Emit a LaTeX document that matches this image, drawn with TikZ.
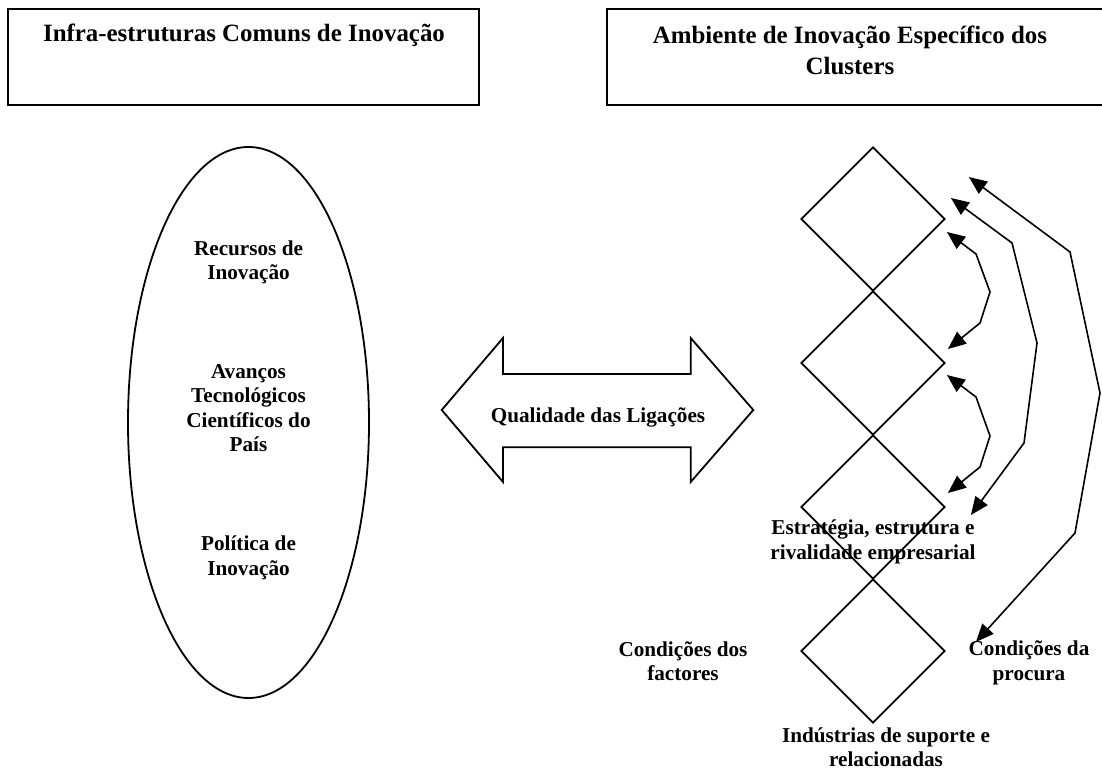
\documentclass[tikz,border=0pt]{standalone}
\usepackage{fontspec}
\setmainfont{Liberation Serif}
\usetikzlibrary{arrows.meta,shapes.geometric,calc}
\begin{document}
\begin{tikzpicture}[x=0.5pt,y=-0.5pt,
  heading/.style={font=\fontsize{12.45}{15.5}\selectfont\bfseries, align=center, inner sep=0pt},
  txt/.style={font=\fontsize{10.6}{12.2}\selectfont\bfseries, align=center, inner sep=0pt},
  frame/.style={draw, line width=1.1pt, inner sep=0pt},
  facet/.style={draw, diamond, aspect=1, line width=0.9pt, minimum width=72pt, minimum height=72pt, inner sep=0pt},
  link/.style={line width=0.8pt, {Triangle[length=9pt,width=7.5pt]}-{Triangle[length=9pt,width=7.5pt]}}
]
\useasboundingbox (0,0) rectangle (1102,769);

% header boxes
\node[frame, minimum width=235.5pt, minimum height=48pt] (lbox) at (243.5,57) {};
\node[frame, minimum width=252.5pt, minimum height=48pt] (rbox) at (859.5,57) {};
\node[heading, anchor=base] (ltitle) at (244,42) {Infra-estruturas Comuns de Inovação};
\node[heading] (rtitle) at (850,50) {Ambiente de Inovação Específico dos\\Clusters};

% common infrastructure
\node[draw, ellipse, line width=0.9pt, minimum width=120.5pt, minimum height=275.5pt, inner sep=0pt] (oval) at (248.5,422.5) {};
\node[txt] (rec) at (248.5,262.5) {Recursos de\\Inovação};
\node[txt] (avan) at (248.5,408) {Avanços\\Tecnológicos\\Científicos do\\País};
\node[txt] (pol) at (248.5,558) {Política de\\Inovação};

% linkage arrow
\draw[line width=0.9pt] (441.7,410) -- (503,338) -- (503,374) -- (690.7,374) -- (690.7,338)
  -- (753.3,410) -- (690.7,482) -- (690.7,447.3) -- (503,447.3) -- (503,482) -- cycle;
\node[txt, anchor=base] (qual) at (598,423) {Qualidade das Ligações};

% cluster diamond
\node[facet] (d1) at (873,219) {};
\node[facet] (d2) at (873,363) {};
\node[facet] (d3) at (873,507) {};
\node[facet] (d4) at (873,651) {};

\node[txt] (estr) at (873,542) {Estratégia, estrutura e\\rivalidade empresarial};
\node[txt] (fact) at (683,661) {Condições dos\\factores};
\node[txt] (proc) at (1029,663) {Condições da\\procura};
\node[txt] (ind) at (886,747.5) {Indústrias de suporte e\\relacionadas};

% interactions
\draw[link] ($(d1.east)+(1,13)$) -- (976,254) -- (990,292) -- (980,323) -- ($(d2.east)+(2,-14)$);
\draw[link] ($(d2.east)+(1,12)$) -- (976,397) -- (990,436) -- (980,467) -- ($(d3.east)+(2,-14)$);
\draw[link] ($(d1.east)+(5,-21)$) -- (1012,243) -- (1037,343) -- (1024,443) -- ($(d3.east)+(25,8)$);
\draw[link] ($(d1.east)+(23,-42)$) -- (1070,252) -- (1100,393) -- (1075,533) -- ($(d4.east)+(30,-9)$);
\end{tikzpicture}
\end{document}
